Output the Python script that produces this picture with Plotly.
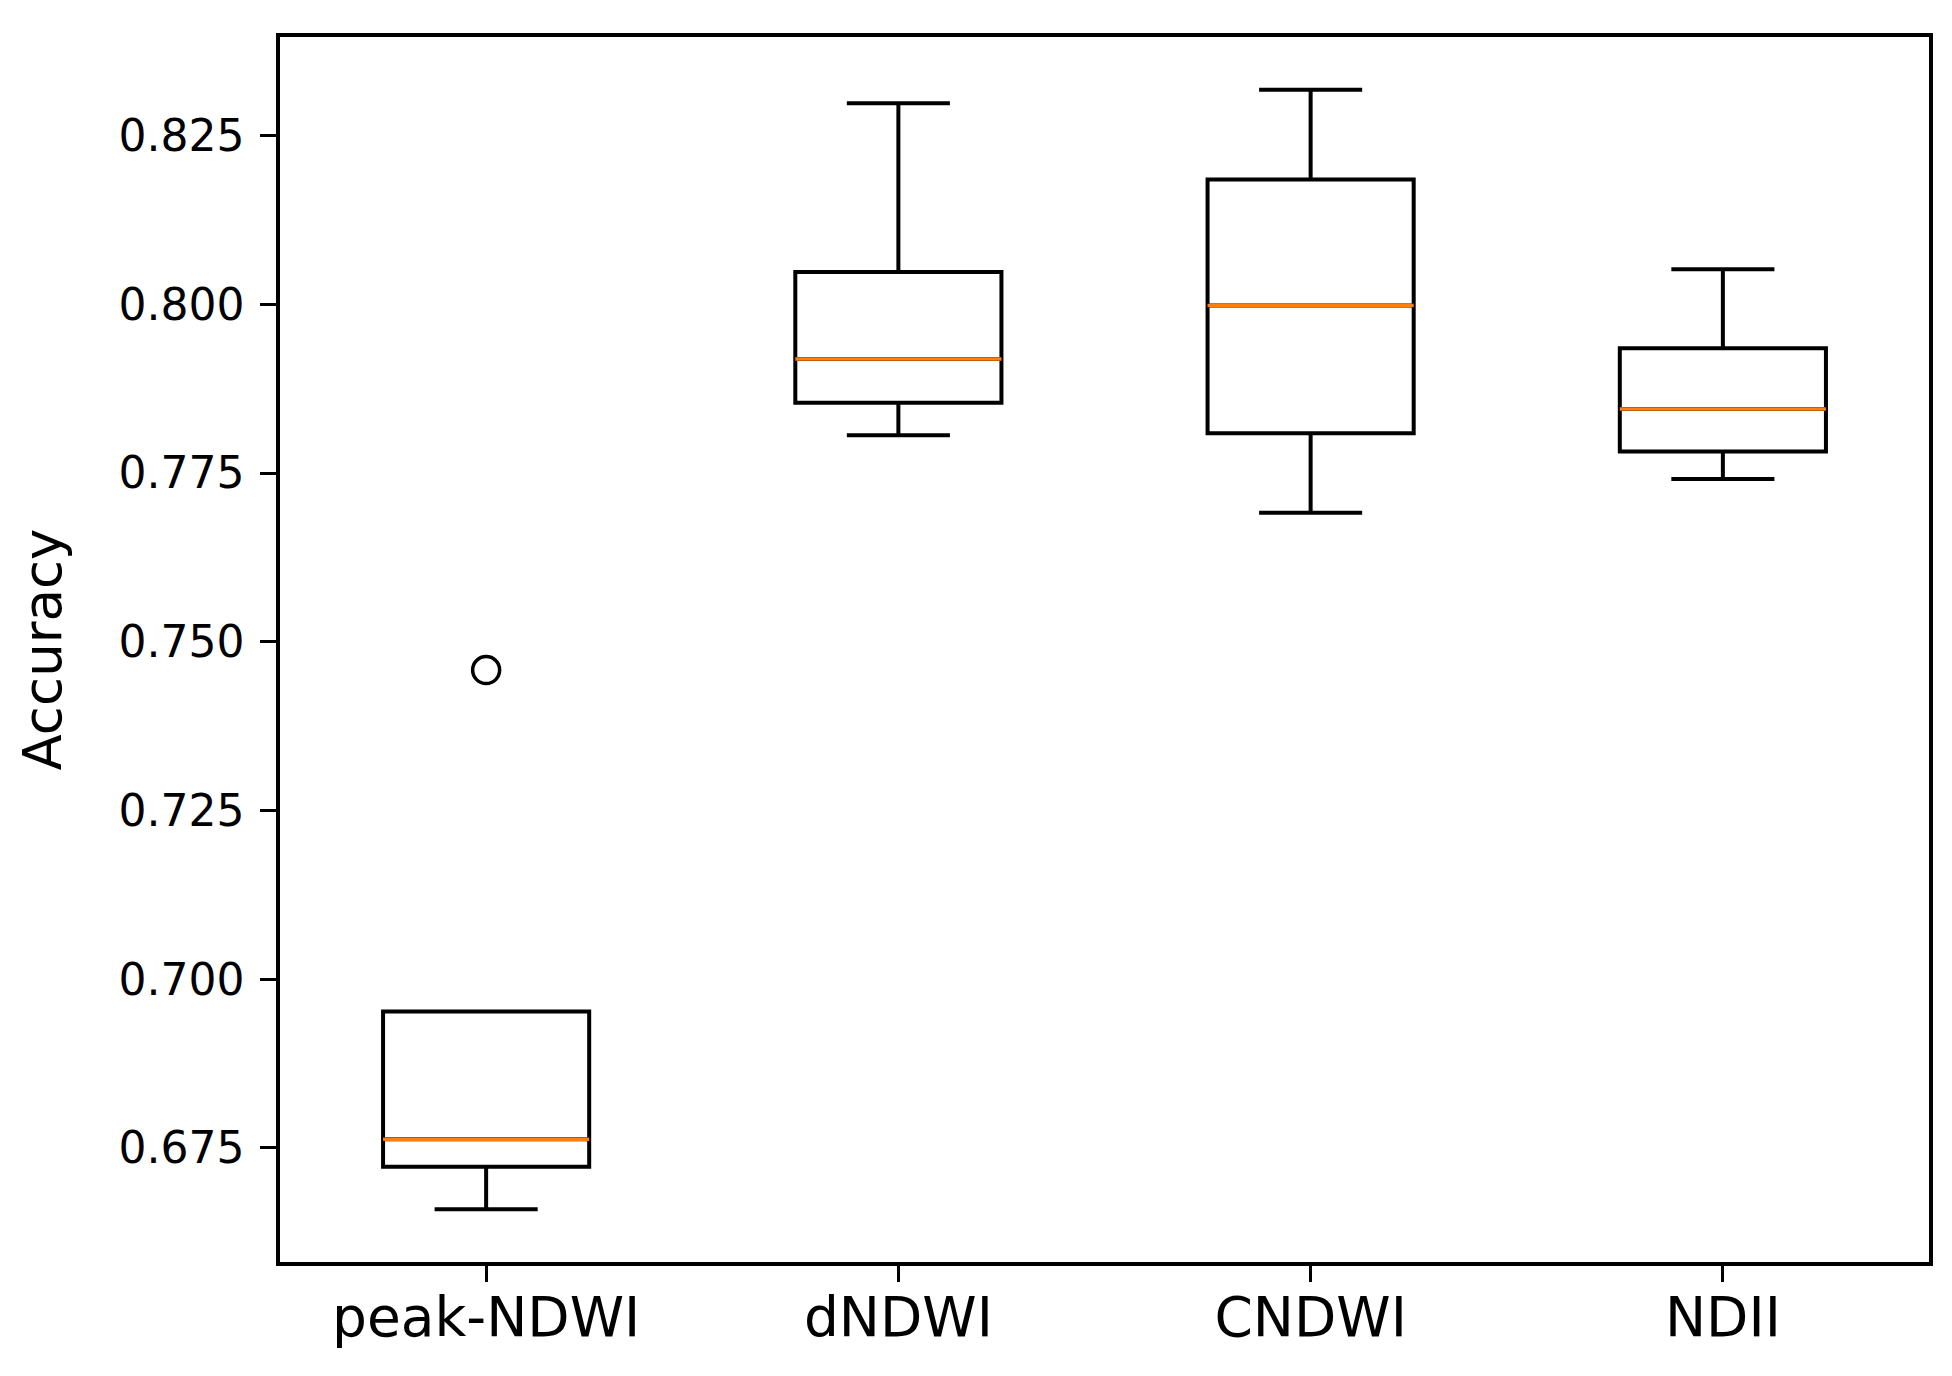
import plotly.graph_objects as go

categories = ["peak-NDWI", "dNDWI", "CNDWI", "NDII"]
positions = [1, 2, 3, 4]
lower_whisker = [0.6659, 0.7806, 0.7691, 0.7741]
q1_values = [0.6722, 0.7854, 0.7809, 0.7782]
median_values = [0.6763, 0.7919, 0.7998, 0.7845]
q3_values = [0.6952, 0.8048, 0.8185, 0.7935]
upper_whisker = [0.6952, 0.8298, 0.8318, 0.8052]
outlier_x = [1]
outlier_y = [0.7458]
y_ticks = [0.675, 0.700, 0.725, 0.750, 0.775, 0.800, 0.825]
y_tick_labels = ["0.675", "0.700", "0.725", "0.750", "0.775", "0.800", "0.825"]

BOX_W = 0.5
FONT = "DejaVu Sans"

fig = go.Figure()
for i, name in enumerate(categories):
    fig.add_trace(go.Box(
        x=[positions[i]],
        q1=[q1_values[i]], median=[median_values[i]], q3=[q3_values[i]],
        lowerfence=[lower_whisker[i]], upperfence=[upper_whisker[i]],
        width=BOX_W, whiskerwidth=0.5,
        line=dict(color="black", width=4),
        fillcolor="rgba(0,0,0,0)",
        boxpoints=False, name=name, showlegend=False, hoverinfo="skip",
    ))
    fig.add_trace(go.Scatter(
        x=[positions[i] - BOX_W / 2, positions[i] + BOX_W / 2],
        y=[median_values[i], median_values[i]],
        mode="lines", line=dict(color="#ff7f0e", width=3.5),
        showlegend=False, hoverinfo="skip",
    ))

fig.add_trace(go.Scatter(
    x=outlier_x, y=outlier_y, mode="markers",
    marker=dict(symbol="circle-open", size=27, color="black", line=dict(width=3.5, color="black")),
    showlegend=False, hoverinfo="skip",
))

fig.update_layout(
    width=1952, height=1376,
    margin=dict(l=272, r=31, t=29, b=122),
    paper_bgcolor="white", plot_bgcolor="white",
    font=dict(family=FONT, color="black"),
    boxmode="overlay",
)
fig.update_xaxes(
    range=[0.5, 4.5], tickmode="array", tickvals=positions, ticktext=categories,
    showgrid=False, zeroline=False, showline=True, mirror=True,
    linecolor="black", linewidth=3.5, ticks="outside", ticklen=16, tickwidth=3,
    tickcolor="black", tickfont=dict(size=55, family=FONT, color="black"),
    ticklabelstandoff=-12,
)
fig.update_yaxes(
    range=[0.6581, 0.8396], tickmode="array",
    tickvals=y_ticks, ticktext=y_tick_labels,
    showgrid=False, zeroline=False, showline=True, mirror=True,
    linecolor="black", linewidth=3.5, ticks="outside", ticklen=16, tickwidth=3,
    tickcolor="black", tickfont=dict(size=44, family=FONT, color="black"),
    ticklabelstandoff=7,
    title=dict(text="Accuracy", font=dict(size=53, family=FONT, color="black"), standoff=41),
)

fig.write_html("out.html")
